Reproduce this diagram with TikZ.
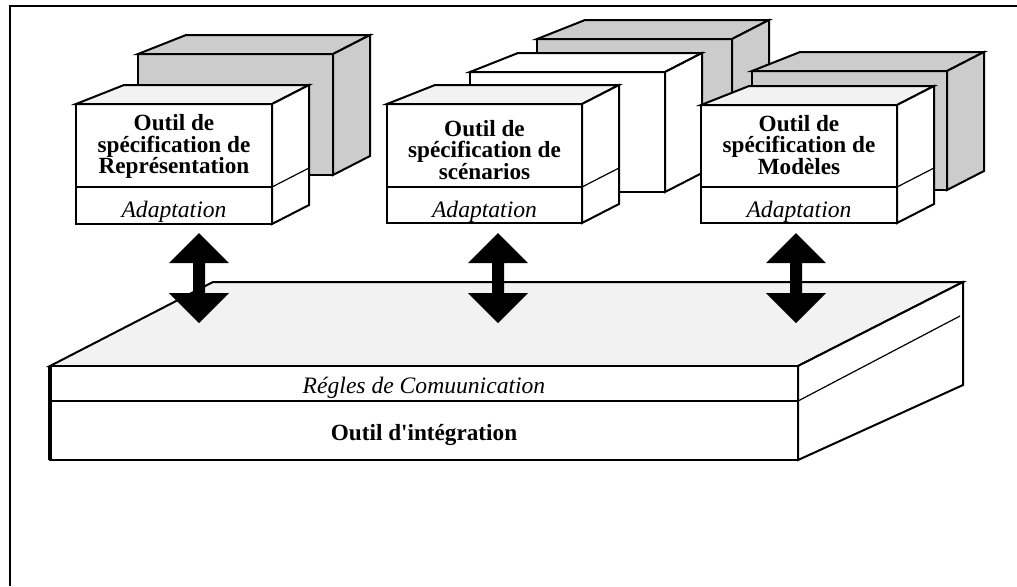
\documentclass[tikz,border=0pt]{standalone}
\usepackage{fontspec}
\setmainfont{Liberation Serif}
\tikzset{
    boxline/.style={draw=black, line width=1pt, line join=miter},
    grayface/.style={boxline, fill={rgb:black,1;white,4}},
    topface/.style={boxline, fill={rgb:black,1;white,19}},
    whiteface/.style={boxline, fill=white},
    title/.style={font=\bfseries\fontsize{11.6}{10.8}\selectfont, align=center, inner sep=0pt},
    adapt/.style={font=\itshape\fontsize{11.8}{12}\selectfont, inner sep=0pt}
}
\begin{document}
\begin{tikzpicture}[x=0.5pt, y=-0.5pt]
    \useasboundingbox (0,0) rectangle (1017,586);
    % frame
    \draw[line width=1.2pt] (10,586) -- (10,6) -- (1017,6);

    % first tool, back box
    \draw[grayface] (138,54) rectangle (333,175);
    \draw[grayface] (138,54) -- (186,35) -- (370,35) -- (333,54) -- cycle;
    \draw[grayface] (333,54) -- (370,35) -- (370,156) -- (333,175) -- cycle;
    % first tool, front box
    \draw[whiteface] (76,104) rectangle (272,224);
    \draw[topface] (76,104) -- (124,85) -- (309,85) -- (272,104) -- cycle;
    \draw[whiteface] (272,104) -- (309,85) -- (309,205) -- (272,224) -- cycle;
    \draw[boxline] (76,187) -- (272,187);
    \draw[line width=0.6pt] (272,187) -- (309,168);

    % second tool, back boxes
    \draw[grayface] (537,39) rectangle (732,160);
    \draw[grayface] (537,39) -- (585,20) -- (769,20) -- (732,39) -- cycle;
    \draw[grayface] (732,39) -- (769,20) -- (769,141) -- (732,160) -- cycle;
    \draw[whiteface] (470,72) rectangle (665,192);
    \draw[whiteface] (470,72) -- (518,53) -- (702,53) -- (665,72) -- cycle;
    \draw[whiteface] (665,72) -- (702,53) -- (702,173) -- (665,192) -- cycle;
    % second tool, front box
    \draw[whiteface] (387,104) rectangle (582,223);
    \draw[topface] (387,104) -- (435,85) -- (619,85) -- (582,104) -- cycle;
    \draw[whiteface] (582,104) -- (619,85) -- (619,204) -- (582,223) -- cycle;
    \draw[boxline] (387,187) -- (582,187);
    \draw[line width=0.6pt] (582,187) -- (619,168);

    % third tool, back box
    \draw[grayface] (752,71) rectangle (947,190);
    \draw[grayface] (752,71) -- (800,52) -- (984,52) -- (947,71) -- cycle;
    \draw[grayface] (947,71) -- (984,52) -- (984,171) -- (947,190) -- cycle;
    % third tool, front box
    \draw[whiteface] (701,105) rectangle (897,223);
    \draw[topface] (701,105) -- (749,86) -- (934,86) -- (897,105) -- cycle;
    \draw[whiteface] (897,105) -- (934,86) -- (934,204) -- (897,223) -- cycle;
    \draw[boxline] (701,187) -- (897,187);
    \draw[line width=0.6pt] (897,187) -- (934,168);

    % integration slab
    \draw[topface] (50,366) -- (213,282) -- (963,282) -- (798,366) -- cycle;
    \draw[whiteface] (50,366) rectangle (798,460);
    \draw[whiteface] (798,366) -- (963,282) -- (963,385) -- (798,460) -- cycle;
    \draw[boxline] (50,401) -- (798,401);
    \draw[line width=0.6pt] (798,401) -- (960,316);
    \draw[line width=1.6pt] (50,366) -- (50,460);

    % double arrows from top to down
    \foreach \c/\n in {199/arep, 498/ascen, 796/amod} {
        \coordinate (\n) at (\c,278);
        \fill[shift={(\n)}] (0,-45) -- (30,-15) -- (6,-15) -- (6,15) -- (30,15) -- (0,45)
            -- (-30,15) -- (-6,15) -- (-6,-15) -- (-30,-15) -- cycle;
    }

    % texts
    \node[title] (rep) at (174,146.5) {Outil de\\spécification de\\Représentation};
    \node[title] (scen) at (484.5,150) {Outil de\\spécification de\\scénarios};
    \node[title] (mod) at (799,145) {Outil de\\spécification de\\Modèles};
    \node[adapt, anchor=base] (adrep) at (174,217) {Adaptation};
    \node[adapt, anchor=base] (adscen) at (484.5,217) {Adaptation};
    \node[adapt, anchor=base] (admod) at (799,217) {Adaptation};
    \node[adapt, anchor=base] (regles) at (424,393) {Régles de Comuunication};
    \node[title, anchor=base] (integ) at (424,440) {Outil d\textquotesingle intégration};
\end{tikzpicture}
\end{document}
